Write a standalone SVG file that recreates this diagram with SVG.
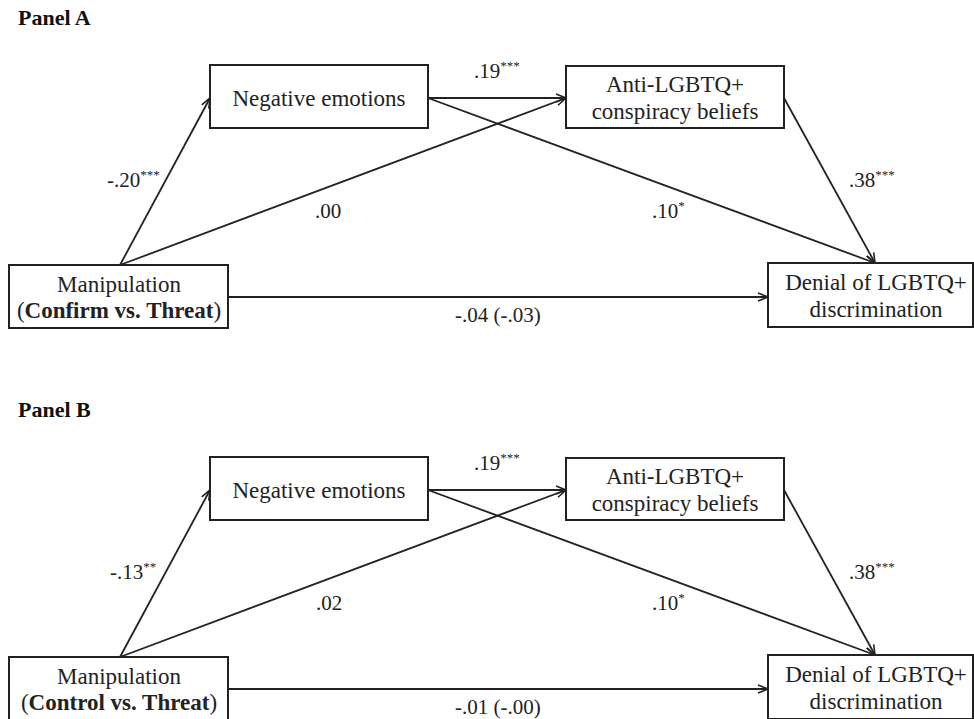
<svg xmlns="http://www.w3.org/2000/svg" width="974" height="719" viewBox="0 0 974 719">
<defs>
<style>
.box{fill:#fff;stroke:#222;stroke-width:2}
.t{font-family:'Liberation Serif','Times New Roman',Times,'DejaVu Serif',serif;font-size:23px;fill:#222;text-anchor:middle}
.lbl{font-family:'Liberation Serif','Times New Roman',Times,'DejaVu Serif',serif;font-size:21px;fill:#222}
.sup{font-size:13px}
.ttl{font-family:'Liberation Serif','Times New Roman',Times,'DejaVu Serif',serif;font-size:22px;font-weight:bold;fill:#111}
.b{font-weight:bold}
.c{fill:none;stroke:#222;stroke-width:1.8}
</style>
<marker id="ah" markerWidth="12" markerHeight="10" refX="11" refY="5" orient="auto" markerUnits="userSpaceOnUse">
<path d="M1,1 L11,5 L1,9" fill="none" stroke="#222" stroke-width="1.6"/>
</marker>
</defs>
<rect width="974" height="719" fill="#fff"/>

<g id="panelA" font-family="Liberation Serif, serif">
<text class="ttl" x="18" y="25">Panel A</text>
<g id="connectorsA">
<path class="c" d="M120,265 L210,98" marker-end="url(#ah)"/>
<path class="c" d="M120,265 L566,98" marker-end="url(#ah)"/>
<path class="c" d="M428,98 L566,98" marker-end="url(#ah)"/>
<path class="c" d="M428,98 L875,263" marker-end="url(#ah)"/>
<path class="c" d="M784,98 L875,263" marker-end="url(#ah)"/>
<path class="c" d="M228,297 L768,297" marker-end="url(#ah)"/>
<text class="lbl" x="107" y="187">-.20<tspan class="sup" dy="-8">***</tspan></text>
<text class="lbl" x="474" y="78">.19<tspan class="sup" dy="-8">***</tspan></text>
<text class="lbl" x="315" y="218">.00</text>
<text class="lbl" x="652" y="218">.10<tspan class="sup" dy="-8">*</tspan></text>
<text class="lbl" x="849" y="187">.38<tspan class="sup" dy="-8">***</tspan></text>
<text class="lbl" x="455" y="322">-.04 (-.03)</text>
</g>
<g id="negA"><rect class="box" x="210" y="65" width="218" height="63"/><text class="t" x="319" y="106">Negative emotions</text></g>
<g id="antiA"><rect class="box" x="566" y="66" width="218" height="62"/><text class="t" x="675" y="92">Anti-LGBTQ+</text><text class="t" x="675" y="119">conspiracy beliefs</text></g>
<g id="manipA"><rect class="box" x="9" y="265" width="219" height="63"/><text class="t" x="119" y="292">Manipulation</text><text class="t" x="119" y="318">(<tspan class="b">Confirm vs. Threat</tspan>)</text></g>
<g id="denialA"><rect class="box" x="768" y="263" width="205" height="64"/><text class="t" x="876" y="290">Denial of LGBTQ+</text><text class="t" x="876" y="317">discrimination</text></g>
</g>

<g id="panelB" transform="translate(0,392)" font-family="Liberation Serif, serif">
<text class="ttl" x="18" y="25">Panel B</text>
<g id="connectorsB">
<path class="c" d="M120,265 L210,98" marker-end="url(#ah)"/>
<path class="c" d="M120,265 L566,98" marker-end="url(#ah)"/>
<path class="c" d="M428,98 L566,98" marker-end="url(#ah)"/>
<path class="c" d="M428,98 L875,263" marker-end="url(#ah)"/>
<path class="c" d="M784,98 L875,263" marker-end="url(#ah)"/>
<path class="c" d="M228,297 L768,297" marker-end="url(#ah)"/>
<text class="lbl" x="110" y="187">-.13<tspan class="sup" dy="-8">**</tspan></text>
<text class="lbl" x="474" y="78">.19<tspan class="sup" dy="-8">***</tspan></text>
<text class="lbl" x="316" y="218">.02</text>
<text class="lbl" x="652" y="218">.10<tspan class="sup" dy="-8">*</tspan></text>
<text class="lbl" x="849" y="187">.38<tspan class="sup" dy="-8">***</tspan></text>
<text class="lbl" x="455" y="322">-.01 (-.00)</text>
</g>
<g id="negB"><rect class="box" x="210" y="65" width="218" height="63"/><text class="t" x="319" y="106">Negative emotions</text></g>
<g id="antiB"><rect class="box" x="566" y="66" width="218" height="62"/><text class="t" x="675" y="92">Anti-LGBTQ+</text><text class="t" x="675" y="119">conspiracy beliefs</text></g>
<g id="manipB"><rect class="box" x="9" y="265" width="219" height="63"/><text class="t" x="119" y="292">Manipulation</text><text class="t" x="119" y="318">(<tspan class="b">Control vs. Threat</tspan>)</text></g>
<g id="denialB"><rect class="box" x="768" y="263" width="205" height="64"/><text class="t" x="876" y="290">Denial of LGBTQ+</text><text class="t" x="876" y="317">discrimination</text></g>
</g>
</svg>
